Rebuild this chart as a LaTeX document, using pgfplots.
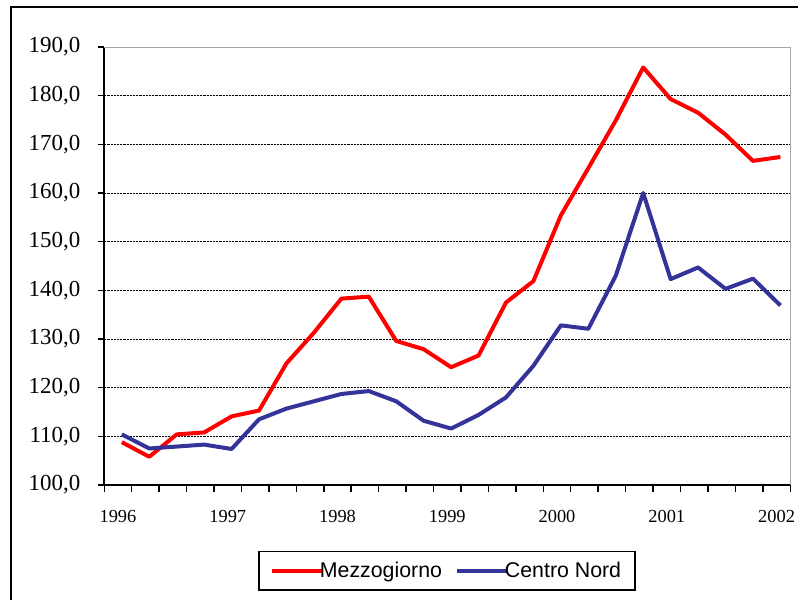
\documentclass[border=0pt]{standalone}
\usepackage{fontspec}
\setmainfont{Liberation Serif}
\setsansfont{Liberation Sans}
\usepackage{pgfplots}
\pgfplotsset{compat=1.18}
\definecolor{mezRed}{RGB}{255,0,0}
\definecolor{cnBlue}{RGB}{51,51,153}

\begin{document}
\begin{tikzpicture}
    \useasboundingbox (0,0) rectangle (598.5pt,449.25pt);
    % outer chart frame (cropped at right and bottom)
    \begin{scope}
        \clip (0,0) rectangle (598.5pt,449.25pt);
        \draw[line width=1.5pt] (8pt,-20pt) -- (8pt,443.85pt) -- (640pt,443.85pt);
    \end{scope}

    \begin{axis}[
        at={(78.2pt,85.5pt)}, anchor=south west,
        scale only axis,
        width=514.5pt, height=328.5pt,
        xmin=-0.64, xmax=24.36,
        ymin=100, ymax=190,
        clip=false,
        axis x line=bottom, axis y line=left,
        axis line style={-, black, line width=1.5pt},
        tick align=outside,
        major tick length=5pt,
        tick style={black, line width=1.1pt},
        xtick={-0.64,0.36,...,24.4},
        xticklabels={},
        extra x ticks={-0.14,3.86,7.86,11.86,15.86,19.86,23.86},
        extra x tick labels={1996,1997,1998,1999,2000,2001,2002},
        extra x tick style={major tick length=0pt},
        xticklabel style={font=\fontsize{13.8}{13.8}\selectfont, anchor=base, inner sep=0pt, yshift=-28.3pt},
        ytick={100,110,...,190},
        yticklabels={{100,0},{110,0},{120,0},{130,0},{140,0},{150,0},{160,0},{170,0},{180,0},{190,0}},
        yticklabel style={font=\fontsize{17.2}{17.2}\selectfont, anchor=east, inner sep=0pt, xshift=-12.75pt},
        ymajorgrids,
        major grid style={black, line width=0.6pt, dash pattern=on 1.6pt off 0.8pt},
        legend columns=2,
        legend style={
            at={(axis description cs:0.2241,-0.15)}, anchor=north west,
            draw=black, line width=1.2pt,
            inner xsep=8.6pt, inner ysep=6pt,
            font=\sffamily\fontsize{16}{16}\selectfont,
            /tikz/every even column/.append style={column sep=8pt}
        },
        legend image code/.code={\draw[#1] (0pt,0pt) -- (37.5pt,0pt);},
    ]

    \addplot[mezRed, line width=3pt, line join=round] coordinates {
        (0,108.8) (1,105.8) (2,110.4) (3,110.8) (4,114.1) (5,115.3) (6,125.0)
        (7,131.3) (8,138.3) (9,138.7) (10,129.6) (11,127.9) (12,124.2) (13,126.6)
        (14,137.5) (15,141.9) (16,155.4) (17,165.1) (18,174.9) (19,185.8)
        (20,179.3) (21,176.5) (22,172.0) (23,166.6) (24,167.4)
    };
    \addlegendentry{\hspace{-5.3pt}Mezzogiorno\hspace{-5.3pt}}

    \addplot[cnBlue, line width=3pt, line join=round] coordinates {
        (0,110.4) (1,107.5) (2,107.9) (3,108.3) (4,107.4) (5,113.5) (6,115.7)
        (7,117.2) (8,118.7) (9,119.3) (10,117.2) (11,113.2) (12,111.6) (13,114.4)
        (14,118.0) (15,124.5) (16,132.8) (17,132.1) (18,143.0) (19,160.0)
        (20,142.3) (21,144.7) (22,140.3) (23,142.4) (24,136.9)
    };
    \addlegendentry{\hspace{-5.3pt}Centro Nord\hspace{-5.3pt}}

    % plot area border (top and right)
    \draw[gray!70, line width=0.75pt] (rel axis cs:0,1) -- (rel axis cs:1,1) -- (rel axis cs:1,0);
    \end{axis}
\end{tikzpicture}
\end{document}
